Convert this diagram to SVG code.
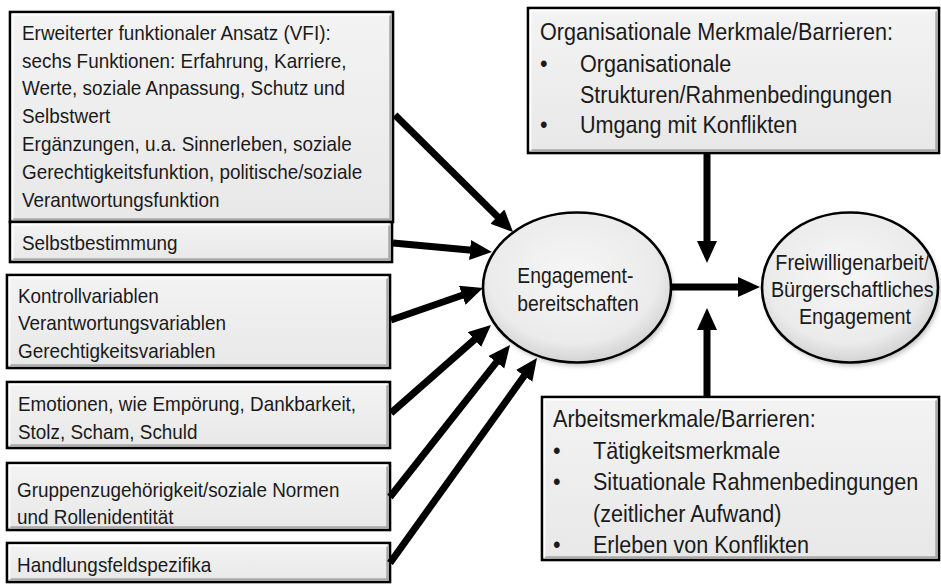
<svg xmlns="http://www.w3.org/2000/svg" width="941" height="584" viewBox="0 0 941 584">
<defs>
<linearGradient id="bg" x1="0" y1="0" x2="0" y2="1"><stop offset="0" stop-color="#f3f3f3"/><stop offset="1" stop-color="#e8e8e8"/></linearGradient>
<radialGradient id="eg" cx="0.48" cy="0.42" r="0.6"><stop offset="0" stop-color="#f6f6f6"/><stop offset="0.75" stop-color="#ebebeb"/><stop offset="1" stop-color="#cfcfcf"/></radialGradient>
<filter id="sd" x="-10%" y="-10%" width="130%" height="130%"><feGaussianBlur stdDeviation="2.5"/></filter>
<marker id="ah" markerUnits="userSpaceOnUse" markerWidth="24" markerHeight="22" refX="10" refY="10" orient="auto"><path d="M0,0 L22,10 L0,20 z" fill="#000"/></marker>
</defs>
<style>
.box{fill:url(#bg);stroke:#000;stroke-width:2.6}
.sh{fill:none;stroke:#a9a9a9;stroke-width:2.5}
.hl{fill:none;stroke:#ffffff;stroke-width:1.8}
.ell{fill:url(#eg);stroke:#000;stroke-width:2.6}
.shadow{fill:#9a9a9a;opacity:0.6;filter:url(#sd)}
.t{font-family:"Liberation Sans",Arial,sans-serif;fill:#1a1a1a}
.l{font-size:21px}
.r{font-size:24px}
.e{font-size:21.5px;text-anchor:middle}
.c{fill:none;stroke:#000;stroke-width:7;marker-end:url(#ah)}
</style>
<rect width="941" height="584" fill="#fff"/>

<g id="n-vfi">
<rect class="box" x="10" y="12" width="383" height="210"/>
<polyline class="sh" points="12.5,219.5 390.5,219.5 390.5,14.5"/>
<polyline class="hl" points="12.5,219.5 12.5,14.5 390.5,14.5"/>
<text class="t l" transform="translate(22 0) scale(0.9 1)">
<tspan x="0" y="40">Erweiterter funktionaler Ansatz (VFI):</tspan>
<tspan x="0" y="67.7">sechs Funktionen: Erfahrung, Karriere,</tspan>
<tspan x="0" y="95.5">Werte, soziale Anpassung, Schutz und</tspan>
<tspan x="0" y="123.3">Selbstwert</tspan>
<tspan x="0" y="151">Ergänzungen, u.a. Sinnerleben, soziale</tspan>
<tspan x="0" y="178.8">Gerechtigkeitsfunktion, politische/soziale</tspan>
<tspan x="0" y="206.6">Verantwortungsfunktion</tspan>
</text>
</g>

<g id="n-selbst">
<rect class="box" x="10" y="222" width="382" height="40"/>
<polyline class="sh" points="12.5,259.5 389.5,259.5 389.5,224.5"/>
<polyline class="hl" points="12.5,259.5 12.5,224.5 389.5,224.5"/>
<text class="t l" transform="translate(22 0) scale(0.9 1)"><tspan x="0" y="250">Selbstbestimmung</tspan></text>
</g>

<g id="n-kontroll">
<rect class="box" x="7" y="275" width="383" height="93"/>
<polyline class="sh" points="9.5,365.5 387.5,365.5 387.5,277.5"/>
<polyline class="hl" points="9.5,365.5 9.5,277.5 387.5,277.5"/>
<text class="t l" transform="translate(18 0) scale(0.9 1)">
<tspan x="0" y="303">Kontrollvariablen</tspan>
<tspan x="0" y="330.5">Verantwortungsvariablen</tspan>
<tspan x="0" y="358">Gerechtigkeitsvariablen</tspan>
</text>
</g>

<g id="n-emotion">
<rect class="box" x="7" y="382" width="383" height="66"/>
<polyline class="sh" points="9.5,445.5 387.5,445.5 387.5,384.5"/>
<polyline class="hl" points="9.5,445.5 9.5,384.5 387.5,384.5"/>
<text class="t l" transform="translate(18 0) scale(0.9 1)">
<tspan x="0" y="411">Emotionen, wie Empörung, Dankbarkeit,</tspan>
<tspan x="0" y="439">Stolz, Scham, Schuld</tspan>
</text>
</g>

<g id="n-gruppe">
<rect class="box" x="7" y="463" width="383" height="67"/>
<polyline class="sh" points="9.5,527.5 387.5,527.5 387.5,465.5"/>
<polyline class="hl" points="9.5,527.5 9.5,465.5 387.5,465.5"/>
<text class="t l" transform="translate(17 0) scale(0.9 1)">
<tspan x="0" y="497">Gruppenzugehörigkeit/soziale Normen</tspan>
<tspan x="0" y="524">und Rollenidentität</tspan>
</text>
</g>

<g id="n-handlung">
<rect class="box" x="7" y="543" width="383" height="39"/>
<polyline class="sh" points="9.5,579.5 387.5,579.5 387.5,545.5"/>
<polyline class="hl" points="9.5,579.5 9.5,545.5 387.5,545.5"/>
<text class="t l" transform="translate(17 0) scale(0.9 1)"><tspan x="0" y="572">Handlungsfeldspezifika</tspan></text>
</g>

<g id="n-org">
<rect class="box" x="528" y="8" width="411" height="145"/>
<polyline class="sh" points="530.5,150.5 936.5,150.5 936.5,10.5"/>
<polyline class="hl" points="530.5,150.5 530.5,10.5 936.5,10.5"/>
<text class="t r" transform="translate(540 0) scale(0.9 1)">
<tspan x="0" y="40.5">Organisationale Merkmale/Barrieren:</tspan>
<tspan x="0" y="72.5">•</tspan><tspan x="44.4" y="72.5">Organisationale</tspan>
<tspan x="44.4" y="102.7">Strukturen/Rahmenbedingungen</tspan>
<tspan x="0" y="133">•</tspan><tspan x="44.4" y="133">Umgang mit Konflikten</tspan>
</text>
</g>

<g id="n-arbeit">
<rect class="box" x="542" y="397" width="397" height="163"/>
<polyline class="sh" points="544.5,557.5 936.5,557.5 936.5,399.5"/>
<polyline class="hl" points="544.5,557.5 544.5,399.5 936.5,399.5"/>
<text class="t r" transform="translate(553 0) scale(0.9 1)">
<tspan x="0" y="427">Arbeitsmerkmale/Barrieren:</tspan>
<tspan x="0" y="459">•</tspan><tspan x="44.4" y="459">Tätigkeitsmerkmale</tspan>
<tspan x="0" y="490">•</tspan><tspan x="44.4" y="490">Situationale Rahmenbedingungen</tspan>
<tspan x="44.4" y="522">(zeitlicher Aufwand)</tspan>
<tspan x="0" y="553">•</tspan><tspan x="44.4" y="553">Erleben von Konflikten</tspan>
</text>
</g>

<g id="n-bereit">
<ellipse class="shadow" cx="579" cy="291" rx="94" ry="75"/>
<ellipse class="ell" cx="577" cy="287.5" rx="94" ry="75"/>
<text class="t e" transform="translate(578 0) scale(0.9 1)">
<tspan x="0" y="283">Engagement-</tspan>
<tspan x="0" y="311">bereitschaften</tspan>
</text>
</g>

<g id="n-frei">
<ellipse class="shadow" cx="852" cy="291" rx="88" ry="75"/>
<ellipse class="ell" cx="850" cy="287.5" rx="88" ry="75"/>
<text class="t e" transform="translate(855 0) scale(0.9 1)" style="font-size:22px">
<tspan x="0" y="270">Freiwilligenarbeit/</tspan>
<tspan x="0" y="297">Bürgerschaftliches</tspan>
<tspan x="0" y="324">Engagement</tspan>
</text>
</g>

<g id="connectors">
<line class="c" x1="395" y1="115" x2="504.5" y2="223.6"/>
<line class="c" x1="393" y1="243" x2="480" y2="250.9"/>
<line class="c" x1="391" y1="320" x2="471.7" y2="292"/>
<line class="c" x1="391" y1="413" x2="482" y2="333"/>
<line class="c" x1="390" y1="497" x2="502.6" y2="354.4"/>
<line class="c" x1="390" y1="563" x2="530" y2="367.8"/>
<line class="c" x1="672" y1="287" x2="748" y2="287"/>
<line class="c" x1="707" y1="153" x2="707" y2="251"/>
<line class="c" x1="707" y1="397" x2="707" y2="320"/>
</g>
</svg>
